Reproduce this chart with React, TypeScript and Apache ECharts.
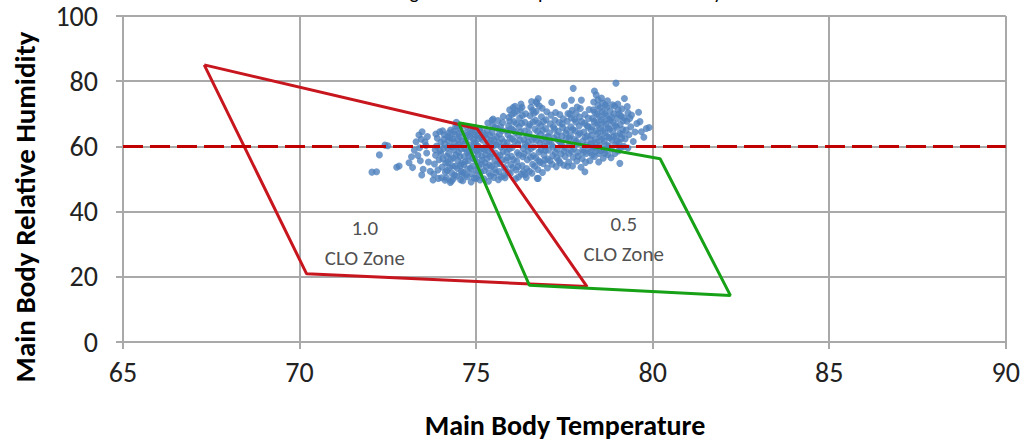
import React, { useEffect, useRef } from "react";
import * as echarts from "echarts";

const seriesName = "Neighborhood Temperature and Humidity";
const xTicks = { min: 65, max: 90, interval: 5 };
const yTicks = { min: 0, max: 100, interval: 20 };
const comfortLimit = 60;

const cloZone10: [number, number][] = [
  [67.3, 85.0], [75.03, 65.4], [78.14, 17.0], [70.2, 20.9], [67.3, 85.0],
];
const cloZone05: [number, number][] = [
  [74.5, 67.3], [80.21, 56.2], [82.2, 14.3], [76.51, 17.4], [74.5, 67.3],
];
const zoneLabels: [number, number, string][] = [
  [71.85, 30.4, "1.0\nCLO Zone"],
  [79.18, 31.6, "0.5\nCLO Zone"],
];

const sparseLeft: [number, number][] = [
  [72.05,52.1],[72.18,52.2],[72.26,57.4],[72.42,60.4],[72.5,60.2],[72.75,53.6],[72.82,54.0],[73.17,56.8],[73.3,61.4],[73.38,63.5],[73.47,64.5],[73.55,61.4],[73.97,64.5],[73.46,51.2],[73.78,49.7],[73.1,55.0],[73.2,53.5],[73.25,58.8],[73.35,57.2],[73.42,55.6],[73.5,53.0],[73.6,58.0],[73.65,55.2],[73.7,52.4],[73.58,60.3],[73.4,59.6],[73.45,62.2],[73.62,63.0],
  [73.8,51.5],[73.82,54.6],[73.85,57.3],[73.88,60.1],[73.9,62.5],[73.92,52.8],[73.95,55.9],[73.98,58.7],[74.0,61.3],[74.02,50.4],[74.04,53.7],[74.06,56.2],[74.08,59.4],[74.1,63.6],[74.12,49.6],[74.13,52.1],[74.14,54.9],[74.05,64.8],[73.86,63.8],[74.0,57.8],[73.93,50.2],[74.11,60.7],[74.09,62.2],[73.84,59.0],
];
const cloudWest: [number, number][] = [
  [74.16,50.3],[74.18,52.6],[74.2,55.1],[74.22,57.8],[74.24,60.2],[74.26,62.7],[74.28,65.0],[74.3,49.4],[74.31,51.8],[74.33,54.0],[74.35,56.5],[74.36,58.9],[74.38,61.4],[74.4,63.8],[74.42,66.1],[74.44,67.4],[74.45,50.9],[74.47,53.2],[74.48,55.7],[74.5,58.1],[74.51,60.6],[74.53,63.0],[74.55,65.3],[74.56,49.8],[74.58,52.4],[74.59,54.8],[74.17,57.0],[74.19,59.5],[74.21,61.9],[74.23,64.2],[74.25,53.5],[74.27,48.9],[74.29,56.0],[74.32,59.8],[74.34,62.3],[74.37,64.6],[74.39,51.2],[74.41,53.9],[74.43,57.4],[74.46,60.0],[74.49,62.1],[74.52,64.0],[74.54,56.9],[74.57,59.2],[74.6,61.7],[74.6,51.5],[74.47,66.2],[74.35,50.0],[74.2,63.1],[74.55,54.1],
  [74.62,49.5],[74.63,52.0],[74.65,54.4],[74.66,56.9],[74.68,59.3],[74.7,61.8],[74.71,64.2],[74.73,66.0],[74.75,50.7],[74.76,53.1],[74.78,55.6],[74.8,58.0],[74.81,60.5],[74.83,62.9],[74.85,65.1],[74.86,49.1],[74.88,51.6],[74.9,54.0],[74.91,56.4],[74.93,58.8],[74.95,61.3],[74.96,63.6],[74.98,65.6],[75.0,50.2],[75.01,52.7],[75.03,55.1],[75.05,57.5],[75.06,60.0],[75.08,62.4],[75.1,64.8],[75.11,49.7],[75.13,52.1],[75.15,54.6],[75.16,57.0],[75.18,59.4],[75.19,61.9],[75.2,64.1],[74.64,60.6],[74.69,55.3],[74.72,51.3],[74.77,63.5],[74.79,57.1],[74.84,53.3],[74.87,59.6],[74.92,62.2],[74.94,50.3],[74.97,56.0],[75.02,58.6],[75.04,63.3],[75.07,53.9],[75.09,51.0],[75.12,59.0],[75.14,62.8],[75.17,55.8],[74.74,58.4],[74.89,64.4],[74.99,60.9],[75.12,65.5],
];
const cloudCentre: [number, number][] = [
  [75.22,50.1],[75.23,52.6],[75.25,55.0],[75.27,57.5],[75.28,60.0],[75.3,62.5],[75.32,65.0],[75.33,67.2],[75.35,49.3],[75.37,51.8],[75.38,54.3],[75.4,56.8],[75.42,59.3],[75.43,61.8],[75.45,64.3],[75.47,66.6],[75.48,68.4],[75.5,50.5],[75.52,53.0],[75.53,55.5],[75.55,58.0],[75.57,60.5],[75.58,63.0],[75.6,65.5],[75.62,67.9],[75.63,49.8],[75.65,52.3],[75.67,54.8],[75.68,57.3],[75.7,59.8],[75.72,62.3],[75.73,64.8],[75.75,67.3],[75.77,69.2],[75.78,51.1],[75.8,53.6],[75.24,59.0],[75.26,63.6],[75.29,53.7],[75.31,56.3],[75.34,58.6],[75.36,61.0],[75.39,63.4],[75.41,51.0],[75.44,53.8],[75.46,57.6],[75.49,60.2],[75.51,62.1],[75.54,65.9],[75.56,51.9],[75.59,54.6],[75.61,56.9],[75.64,61.2],[75.66,63.7],[75.69,66.0],[75.71,50.6],[75.74,55.9],[75.76,58.4],[75.79,61.4],[75.45,68.0],
  [75.82,50.4],[75.83,53.0],[75.85,55.7],[75.87,58.3],[75.88,61.0],[75.9,63.6],[75.92,66.3],[75.93,68.9],[75.95,71.2],[75.97,51.7],[75.98,54.4],[76.0,57.0],[76.02,59.7],[76.03,62.3],[76.05,65.0],[76.07,67.6],[76.08,70.2],[76.1,72.3],[76.12,50.1],[76.13,52.8],[76.15,55.4],[76.17,58.1],[76.18,60.7],[76.2,63.4],[76.22,66.0],[76.23,68.7],[76.25,71.3],[76.27,73.0],[76.28,51.5],[76.3,54.1],[76.32,56.8],[76.33,59.4],[76.35,62.1],[76.37,64.7],[76.38,67.4],[76.4,70.0],[75.84,60.0],[75.86,64.8],[75.89,56.6],[75.91,52.0],[75.94,59.2],[75.96,62.6],[75.99,65.5],[76.01,69.8],[76.04,53.5],[76.06,56.0],[76.09,61.6],[76.11,64.3],[76.14,67.0],[76.16,70.8],[76.19,53.8],[76.21,57.4],[76.24,61.9],[76.26,64.4],[76.29,67.1],[76.31,69.5],[76.34,52.2],[76.36,57.7],[76.39,60.8],[76.3,72.0],[76.05,71.9],[75.95,67.8],[76.2,50.6],
  [76.42,50.5],[76.43,53.2],[76.45,55.9],[76.47,58.6],[76.48,61.3],[76.5,64.0],[76.52,66.7],[76.53,69.4],[76.55,72.0],[76.57,73.8],[76.58,51.8],[76.6,54.5],[76.62,57.2],[76.63,59.9],[76.65,62.6],[76.67,65.3],[76.68,68.0],[76.7,70.7],[76.72,73.2],[76.73,50.2],[76.75,52.9],[76.77,55.6],[76.78,58.3],[76.8,61.0],[76.82,63.7],[76.83,66.4],[76.85,69.1],[76.87,71.7],[76.88,52.0],[76.9,54.7],[76.92,57.4],[76.93,60.1],[76.95,62.8],[76.97,65.5],[76.98,68.2],[77.0,70.6],[76.44,60.1],[76.46,63.0],[76.49,66.0],[76.51,52.4],[76.54,56.7],[76.56,59.4],[76.59,62.0],[76.61,67.5],[76.64,70.2],[76.66,53.9],[76.69,56.5],[76.71,61.9],[76.74,64.6],[76.76,67.2],[76.79,72.4],[76.81,55.1],[76.84,59.0],[76.86,62.1],[76.89,64.9],[76.91,67.6],[76.94,55.8],[76.96,58.8],[76.99,61.5],[76.76,74.7],[76.7,73.7],[76.76,50.2],[76.38,51.4],[76.6,71.1],
];
const cloudEast: [number, number][] = [
  [77.02,53.4],[77.03,56.1],[77.05,58.8],[77.07,61.5],[77.08,64.2],[77.1,66.9],[77.12,69.6],[77.14,73.5],[77.15,54.5],[77.17,57.2],[77.18,59.9],[77.2,62.6],[77.22,65.3],[77.23,68.0],[77.25,70.4],[77.27,53.8],[77.28,56.5],[77.3,59.2],[77.32,61.9],[77.33,64.6],[77.35,67.3],[77.37,69.8],[77.38,55.0],[77.4,57.7],[77.42,60.4],[77.43,63.1],[77.45,65.8],[77.47,68.5],[77.48,54.2],[77.5,72.5],[77.52,56.9],[77.53,59.6],[77.55,62.3],[77.57,65.0],[77.58,67.7],[77.6,70.1],[77.04,63.0],[77.09,55.6],[77.13,60.6],[77.19,66.0],[77.24,58.1],[77.29,63.4],[77.34,55.7],[77.39,61.2],[77.44,66.9],[77.49,58.6],[77.54,64.1],[77.59,53.9],
  [77.62,55.2],[77.63,57.9],[77.65,60.6],[77.67,63.3],[77.68,66.0],[77.7,68.7],[77.7,74.2],[77.72,71.1],[77.73,54.0],[77.75,56.7],[77.75,77.8],[77.77,59.4],[77.78,62.1],[77.8,64.8],[77.82,67.5],[77.83,70.2],[77.85,55.5],[77.87,58.2],[77.88,60.9],[77.9,63.6],[77.92,66.3],[77.93,69.0],[77.95,71.6],[77.97,53.6],[77.98,74.2],[78.0,56.3],[78.02,59.0],[78.03,61.7],[78.05,64.4],[78.07,67.1],[78.08,52.2],[78.08,69.8],[78.1,55.1],[78.12,57.8],[78.13,60.5],[78.15,63.2],[78.17,65.9],[78.18,68.6],[78.2,71.3],[77.64,62.5],[77.69,58.6],[77.74,65.2],[77.79,68.3],[77.84,61.6],[77.89,57.0],[77.94,64.1],[77.99,67.6],[78.04,58.2],[78.09,62.8],[78.14,66.4],[78.19,59.3],[77.66,69.9],[77.86,72.1],
];
const cloudRight: [number, number][] = [
  [78.22,55.6],[78.23,58.2],[78.25,60.8],[78.27,63.4],[78.28,66.0],[78.3,68.6],[78.32,71.2],[78.33,73.6],[78.35,77.0],[78.35,56.9],[78.37,59.5],[78.38,62.1],[78.4,75.8],[78.4,64.7],[78.42,67.3],[78.43,69.9],[78.45,72.5],[78.47,55.2],[78.48,57.8],[78.5,60.4],[78.52,63.0],[78.53,65.6],[78.55,68.2],[78.57,70.8],[78.58,73.3],[78.6,56.4],[78.62,59.0],[78.63,61.6],[78.65,57.9],[78.65,64.2],[78.67,66.8],[78.68,69.4],[78.7,72.0],[78.72,74.0],[78.73,57.5],[78.75,60.1],[78.77,62.7],[78.78,65.3],[78.8,67.9],[78.24,62.0],[78.26,65.0],[78.29,57.4],[78.31,60.0],[78.34,67.7],[78.36,70.5],[78.39,58.5],[78.41,61.3],[78.44,64.0],[78.46,66.6],[78.49,69.2],[78.51,71.8],[78.54,58.7],[78.56,62.2],[78.59,64.9],[78.61,67.5],[78.64,70.1],[78.66,72.7],[78.69,60.4],[78.71,63.1],[78.74,65.8],[78.76,68.4],[78.79,70.9],[78.45,74.3],[78.55,74.8],
  [78.82,56.5],[78.83,59.2],[78.85,61.9],[78.87,64.6],[78.88,67.3],[78.9,70.0],[78.92,72.4],[78.93,57.8],[78.95,60.5],[78.96,79.4],[78.97,63.2],[78.98,65.9],[79.0,68.6],[79.02,71.2],[79.03,58.6],[79.05,61.3],[79.07,54.8],[79.07,64.0],[79.08,66.7],[79.1,69.4],[79.12,62.5],[79.13,71.5],[79.15,65.2],[79.17,67.9],[79.18,60.0],[79.2,74.7],[78.84,69.0],[78.89,63.0],[78.94,66.4],[78.99,61.6],[79.04,69.9],[79.09,59.6],[79.14,63.7],[79.19,68.8],[78.86,72.8],[79.01,73.0],
  [79.22,62.3],[79.25,65.0],[79.27,67.7],[79.3,70.3],[79.33,63.6],[79.35,68.6],[79.4,69.6],[79.38,66.0],[79.45,61.5],[79.5,64.4],[79.55,67.0],[79.64,67.6],[79.68,64.5],[79.82,65.5],[79.9,65.8],[79.75,62.8],[79.3,59.5],[79.6,70.5],[79.28,72.2],
];

const FONT = "Calibri, Carlito, Lato, sans-serif";
const GRID_COLOR = "#A9A9A9";

export default function App() {
  const ref = useRef<HTMLDivElement>(null);
  useEffect(() => {
    if (!ref.current) return;
    const chart = echarts.init(ref.current, undefined, { renderer: "svg" });
    const points = [...sparseLeft, ...cloudWest, ...cloudCentre, ...cloudEast, ...cloudRight];
    chart.setOption({
      animation: false,
      backgroundColor: "#ffffff",
      textStyle: { fontFamily: FONT },
      grid: { left: 123, right: 17, top: 16, bottom: 101, containLabel: false },
      legend: {
        data: [{ name: seriesName, icon: "diamond" }],
        left: 362,
        top: -24,
        padding: 5,
        itemWidth: 10,
        itemHeight: 10,
        itemGap: 8,
        textStyle: { fontFamily: FONT, fontSize: 20, color: "#000", lineHeight: 22 },
      },
      xAxis: {
        type: "value",
        min: xTicks.min,
        max: xTicks.max,
        interval: xTicks.interval,
        axisLine: { show: true, lineStyle: { color: GRID_COLOR, width: 2 } },
        axisTick: { show: true, length: 7, lineStyle: { color: GRID_COLOR, width: 2 } },
        axisLabel: { margin: 16, fontSize: 28, color: "#222", fontFamily: FONT },
        splitLine: { show: true, lineStyle: { color: GRID_COLOR, width: 2 } },
      },
      yAxis: {
        type: "value",
        min: yTicks.min,
        max: yTicks.max,
        interval: yTicks.interval,
        axisLine: { show: true, lineStyle: { color: GRID_COLOR, width: 2 } },
        axisTick: { show: true, length: 7, lineStyle: { color: GRID_COLOR, width: 2 } },
        axisLabel: { margin: 25, fontSize: 28, color: "#222", fontFamily: FONT },
        splitLine: { show: true, lineStyle: { color: GRID_COLOR, width: 2 } },
      },
      graphic: [
        {
          type: "text",
          x: 565,
          y: 425,
          style: {
            text: "Main Body Temperature",
            font: `bold 28px ${FONT}`,
            fill: "#000",
            align: "center",
            verticalAlign: "middle",
          },
        },
        {
          type: "text",
          x: 25,
          y: 207,
          rotation: Math.PI / 2,
          style: {
            text: "Main Body Relative Humidity",
            font: `bold 29px ${FONT}`,
            fill: "#000",
            align: "center",
            verticalAlign: "middle",
          },
        },
      ],
      series: [
        {
          name: seriesName,
          type: "scatter",
          data: points,
          symbol: "circle",
          symbolSize: 7,
          itemStyle: { color: "#4F81BD" },
          z: 2,
          markLine: {
            silent: true,
            symbol: ["none", "none"],
            label: { show: false },
            lineStyle: { color: "#C00000", width: 3, type: [20, 7] },
            data: [{ yAxis: comfortLimit }],
          },
        },
        {
          name: "1.0 CLO Zone",
          type: "line",
          data: cloZone10,
          showSymbol: false,
          symbol: "none",
          lineStyle: { color: "#C8161E", width: 3 },
          z: 3,
        },
        {
          name: "0.5 CLO Zone",
          type: "line",
          data: cloZone05,
          showSymbol: false,
          symbol: "none",
          lineStyle: { color: "#17A117", width: 3 },
          z: 4,
        },
        {
          name: "Zone labels",
          type: "scatter",
          data: zoneLabels.map((d) => ({ value: [d[0], d[1]], labelText: d[2] })),
          symbolSize: 0,
          itemStyle: { color: "transparent" },
          label: {
            show: true,
            position: "inside",
            formatter: (p: any) => p.data.labelText,
            fontSize: 21,
            lineHeight: 30,
            color: "#222",
            fontFamily: FONT,
            align: "center",
          },
          z: 5,
        },
      ],
    });
    return () => chart.dispose();
  }, []);
  return (
    <div
      ref={ref}
      style={{ position: "absolute", left: 0, top: 0, width: 1023, height: 443 }}
    />
  );
}
